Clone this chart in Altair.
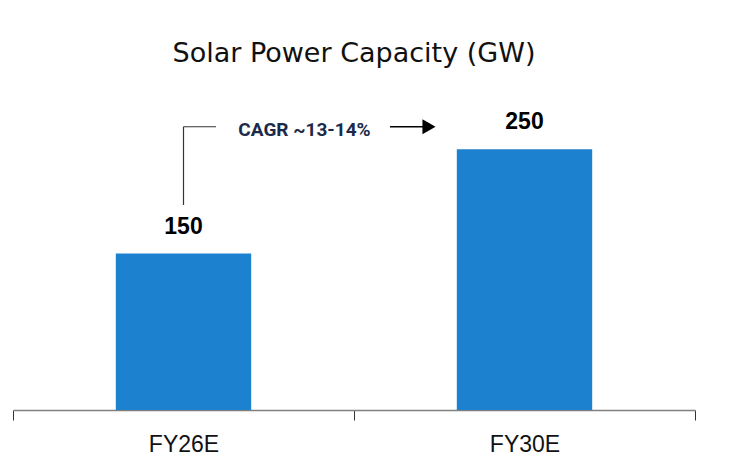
import altair as alt
import pandas as pd

categories = ["FY26E", "FY30E"]
values = [150, 250]
labels = ["150", "250"]
cagr_text = "CAGR ~13-14%"

df = pd.DataFrame({"cat": categories, "val": values, "lab": labels})

yscale = alt.Scale(domain=[0, 300])
x = alt.X("cat:N", sort=categories, title=None,
          scale=alt.Scale(paddingInner=0, paddingOuter=0),
          axis=alt.Axis(labelAngle=0, labelFont="Liberation Sans", labelFontSize=23,
                        labelColor="#111111", labelPadding=13, tickBand="extent",
                        domainColor="#808080", domainWidth=1.5, tickColor="#333333",
                        tickSize=10, tickWidth=1))
y = alt.Y("val:Q", scale=yscale, axis=None)

base = alt.Chart(df)

bars = base.mark_bar(color="#1c82cf", width=alt.RelativeBandSize(0.397)).encode(x=x, y=y)
text = base.mark_text(fontWeight="bold", fontSize=23, font="Liberation Sans",
                      baseline="alphabetic", dy=-20, color="#000000").encode(x=x, y=y, text="lab:N")

ann = pd.DataFrame({"cat": [categories[0]], "y1": [196.5], "y2": [271.5], "t": [cagr_text]})
ab = alt.Chart(ann)
xc = alt.X("cat:N", sort=categories)
vline = ab.mark_rule(color="#333333", strokeWidth=1.2).encode(
    x=xc, y=alt.Y("y1:Q", scale=yscale), y2="y2:Q")
hline = ab.mark_rule(color="#333333", strokeWidth=1.2).encode(
    x=xc, x2=alt.value(203), y=alt.Y("y2:Q", scale=yscale))
arrow = ab.mark_rule(color="#000000", strokeWidth=1.5).encode(
    x=alt.value(377), x2=alt.value(411), y=alt.Y("y2:Q", scale=yscale))
head = ab.mark_point(shape="triangle-right", filled=True, color="#000000", size=230, opacity=1).encode(
    x=alt.value(416), y=alt.Y("y2:Q", scale=yscale))
ctext = ab.mark_text(fontWeight="bold", fontSize=19, font="Roboto", color="#1b2a4a",
                     baseline="middle", dx=121, dy=3).encode(
    x=xc, y=alt.Y("y2:Q", scale=yscale), text="t:N")

chart = alt.layer(bars, text, vline, hline, arrow, head, ctext).properties(
    width=682, height=313,
    background="white",
    title=alt.TitleParams("Solar Power Capacity (GW)", font="DejaVu Sans", fontSize=27,
                          fontWeight="normal", color="#111111", offset=29),
    autosize=alt.AutoSizeParams(type="none"),
    padding={"left": 5, "top": 89, "right": 30, "bottom": 50},
).configure_view(stroke=None, strokeWidth=0)

chart.save("out.html", embed_options={"renderer": "svg", "actions": False})
